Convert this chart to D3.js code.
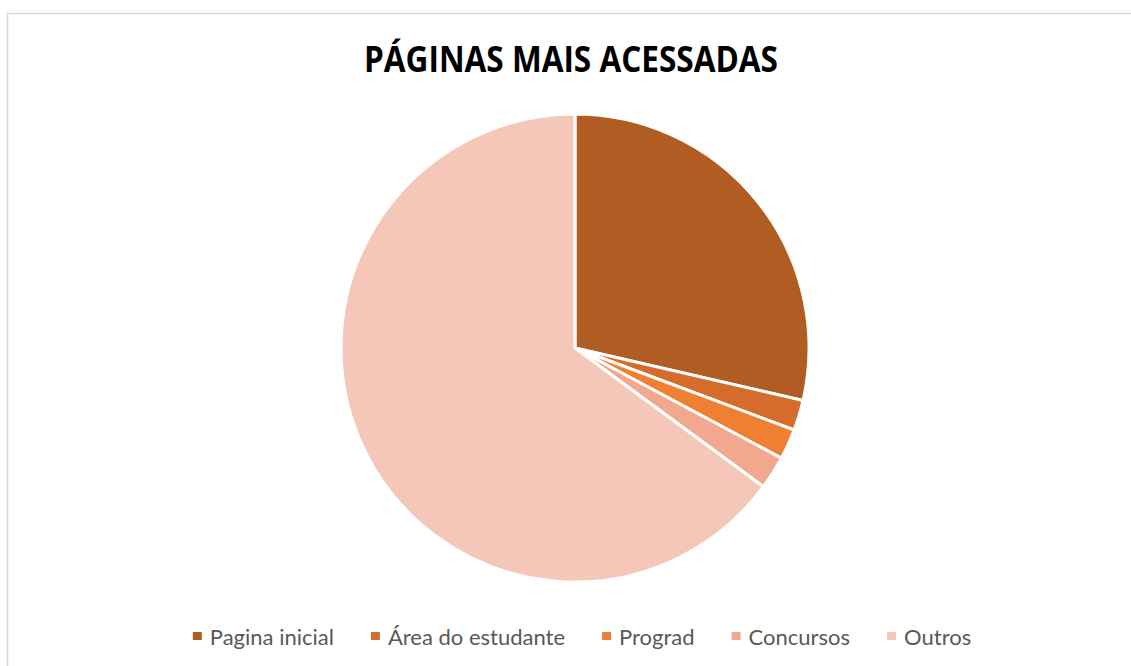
<!DOCTYPE html>
<html>
<head>
<meta charset="utf-8">
<script src="https://cdn.jsdelivr.net/npm/d3@7"></script>
<style>
  body { margin: 0; background: #fff; }
  svg { display: block; }
</style>
</head>
<body>
<div id="chart"></div>
<script>
// data
var categories = ["Pagina inicial", "Área do estudante", "Prograd", "Concursos", "Outros"];
var values = [28.6, 2.1, 2.1, 2.3, 64.9];
var colors = ["#B15C22", "#D66C2C", "#EE7F33", "#F1A88E", "#F5C7B8"];
var title = "PÁGINAS MAIS ACESSADAS";

var width = 1131, height = 666;
var cx = 575, cy = 348, radius = 234;

var svg = d3.select("#chart").append("svg")
    .attr("width", width)
    .attr("height", height);

// chart border (runs off the right / bottom edge)
svg.append("rect")
    .attr("x", 7.5)
    .attr("y", 13.5)
    .attr("width", width + 20)
    .attr("height", height + 20)
    .attr("fill", "none")
    .attr("stroke", "#d9d9d9")
    .attr("stroke-width", 1.5);

// title
svg.append("text")
    .attr("x", 571)
    .attr("y", 72)
    .attr("text-anchor", "middle")
    .attr("font-family", "'Open Sans', sans-serif")
    .attr("font-weight", "bold")
    .attr("font-size", 36)
    .attr("textLength", 414)
    .attr("lengthAdjust", "spacingAndGlyphs")
    .attr("fill", "#000")
    .text(title);

// pie
var pie = d3.pie().sort(null).value(function (d) { return d; });
var arc = d3.arc().innerRadius(0).outerRadius(radius);

var g = svg.append("g")
    .attr("transform", "translate(" + cx + "," + cy + ")");

g.selectAll("path")
    .data(pie(values))
    .enter().append("path")
    .attr("d", arc)
    .attr("fill", function (d, i) { return colors[i]; })
    .attr("stroke", "#fff")
    .attr("stroke-width", 3)
    .attr("stroke-linejoin", "round");

// legend
var legend = svg.append("g").attr("class", "legend");
var items = legend.selectAll("g")
    .data(categories)
    .enter().append("g");

items.append("rect")
    .attr("width", 9)
    .attr("height", 8)
    .attr("y", -13)
    .attr("fill", function (d, i) { return colors[i]; });

items.append("text")
    .attr("x", 17)
    .attr("font-family", "Lato, sans-serif")
    .attr("font-size", 22)
    .attr("fill", "#595959")
    .text(function (d) { return d; });

// place items side by side, centred under the pie
var gap = 37, xpos = [], total = 0;
items.each(function (d, i) {
    var w = 17 + d3.select(this).select("text").node().getComputedTextLength();
    xpos.push(total);
    total += w + (i < categories.length - 1 ? gap : 0);
});
var x0 = 582 - total / 2;
items.attr("transform", function (d, i) {
    return "translate(" + (x0 + xpos[i]) + ",645)";
});
</script>
</body>
</html>
